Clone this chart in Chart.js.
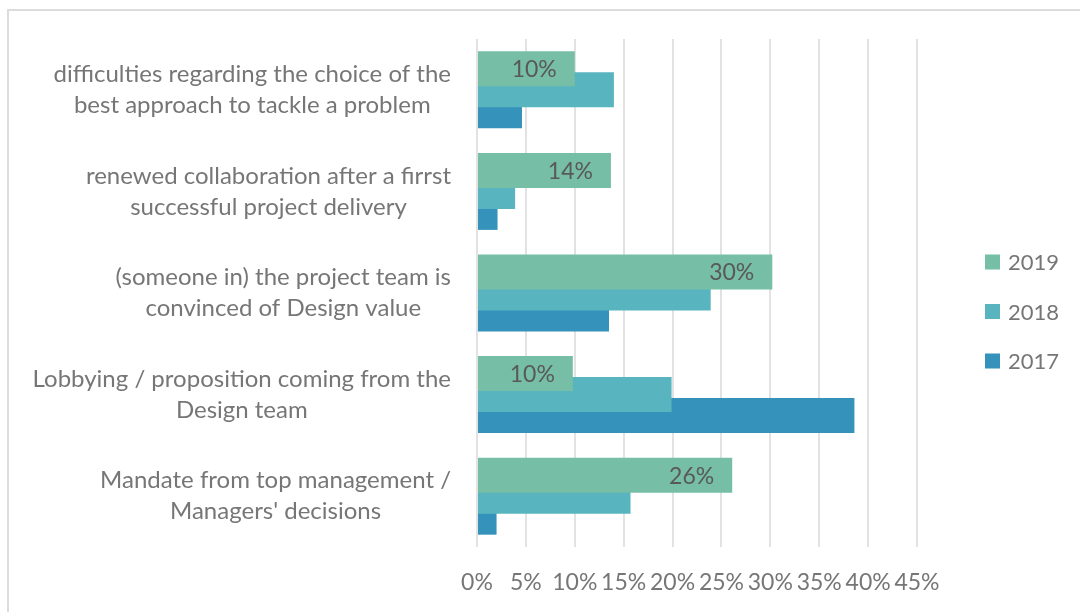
<!DOCTYPE html>
<html>
<head>
<meta charset="utf-8">
<script src="https://cdn.jsdelivr.net/npm/chart.js@4/dist/chart.umd.min.js"></script>
<style>
    html, body { margin: 0; padding: 0; background: #fff; }
    #wrap { width: 1080px; height: 612px; position: relative; }
</style>
</head>
<body>
<div id="wrap"><canvas id="chart" width="1080" height="612"></canvas></div>
<script>
// categories (top to bottom), each split in the lines shown in the picture
let categories = [
    ["difficulties regarding the choice of the", "best approach to tackle a problem"],
    ["renewed collaboration after a firrst", "successful project delivery"],
    ["(someone in) the project team is", "convinced of Design value"],
    ["Lobbying / proposition coming from the", "Design team"],
    ["Mandate from top management /", "Managers' decisions"]
];
let seriesNames = ["2019", "2018", "2017"];
let values2019 = [10, 13.7, 30.2, 9.8, 26.1];
let values2018 = [14, 3.9, 23.9, 19.9, 15.7];
let values2017 = [4.6, 2.1, 13.5, 38.6, 2.0];
let xTicks = [0, 5, 10, 15, 20, 25, 30, 35, 40, 45];

let colors = ["#76bea5", "#58b4be", "#3592ba"];
let textGray = "#767676";
let fontFamily = "Lato, 'Open Sans', sans-serif";

// light frame around the chart (top and left edges visible)
let framePlugin = {
    id: "frame",
    beforeDraw(chart) {
        let ctx = chart.ctx;
        ctx.save();
        ctx.strokeStyle = "#dcdcdc";
        ctx.lineWidth = 2;
        ctx.beginPath();
        ctx.moveTo(8, 612);
        ctx.lineTo(8, 10);
        ctx.lineTo(1080, 10);
        ctx.stroke();
        ctx.restore();
    }
};

// category labels: block right aligned, lines centred inside the block
let categoryLabelPlugin = {
    id: "categoryLabels",
    afterDraw(chart) {
        let ctx = chart.ctx;
        let yScale = chart.scales.y;
        ctx.save();
        ctx.font = "24px " + fontFamily;
        ctx.fillStyle = textGray;
        ctx.textAlign = "center";
        ctx.textBaseline = "middle";
        categories.forEach((lines, i) => {
            let y = yScale.getPixelForValue(i);
            let widest = Math.max(...lines.map(l => ctx.measureText(l).width));
            let cx = chart.chartArea.left - 26 - widest / 2;
            lines.forEach((l, j) => {
                ctx.fillText(l, cx, y + (j - (lines.length - 1) / 2) * 31);
            });
        });
        ctx.restore();
    }
};

// value labels on the 2019 bars, inside the end
let valueLabelPlugin = {
    id: "valueLabels",
    afterDatasetsDraw(chart) {
        let ctx = chart.ctx;
        let meta = chart.getDatasetMeta(0);
        ctx.save();
        ctx.font = "23px " + fontFamily;
        ctx.fillStyle = "#595959";
        ctx.textAlign = "right";
        ctx.textBaseline = "middle";
        meta.data.forEach((bar, i) => {
            let p = bar.getProps(["x", "y"], true);
            ctx.fillText(Math.round(values2019[i]) + "%", p.x - 18, p.y + 1);
        });
        ctx.restore();
    }
};

// legend on the right
let legendPlugin = {
    id: "sideLegend",
    afterDraw(chart) {
        let ctx = chart.ctx;
        ctx.save();
        ctx.font = "22px " + fontFamily;
        ctx.textAlign = "left";
        ctx.textBaseline = "middle";
        seriesNames.forEach((name, i) => {
            let y = 262 + i * 49.5;
            ctx.fillStyle = colors[i];
            ctx.fillRect(985, y - 7.5, 15, 15);
            ctx.fillStyle = textGray;
            ctx.fillText(name, 1008, y + 1);
        });
        ctx.restore();
    }
};

let context = document.getElementById("chart").getContext("2d");
let data = {
    labels: categories.map(c => c.join(" ")),
    datasets: [values2019, values2018, values2017].map((v, i) => {
        return {
            label: seriesNames[i],
            data: v,
            backgroundColor: colors[i],
            borderWidth: 0,
            categoryPercentage: 0.62,
            barPercentage: 1.667
        };
    })
};

let chart = new Chart(context, {
    type: "bar",
    data: data,
    options: {
        indexAxis: "y",
        responsive: false,
        animation: false,
        layout: { padding: { top: 39, right: 163, left: 0, bottom: 0 } },
        plugins: {
            legend: { display: false },
            tooltip: { enabled: false }
        },
        scales: {
            x: {
                min: 0,
                max: 45,
                afterBuildTicks: axis => { axis.ticks = xTicks.map(v => ({ value: v })); },
                afterFit: axis => { axis.height = 65; },
                grid: { color: "#e2e2e2", lineWidth: 2, drawTicks: false },
                border: { display: false },
                ticks: {
                    autoSkip: false,
                    maxRotation: 0,
                    padding: 22,
                    color: textGray,
                    font: { family: fontFamily, size: 23 },
                    callback: v => v + "%"
                }
            },
            y: {
                afterFit: axis => { axis.width = 477; },
                grid: { display: false },
                border: { display: false },
                ticks: { display: false }
            }
        }
    },
    plugins: [framePlugin, categoryLabelPlugin, valueLabelPlugin, legendPlugin]
});
</script>
</body>
</html>
